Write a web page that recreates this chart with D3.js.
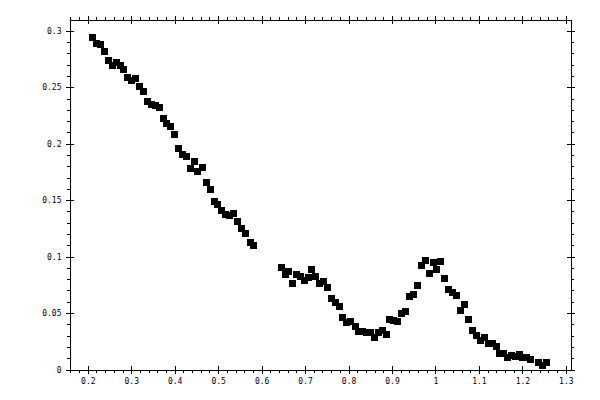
<!DOCTYPE html>
<html>
<head>
<meta charset="utf-8">
<script src="https://cdn.jsdelivr.net/npm/d3@7"></script>
<style>
  body { margin: 0; background: #fff; }
  svg { display: block; }
  .tick text { font-family: "DejaVu Sans Mono", monospace; font-size: 8px; fill: #000; }
  .tick line, .domain { stroke: #000; shape-rendering: crispEdges; }
</style>
</head>
<body>
<div id="chart"></div>
<script>
// Values
const xValues = [
  0.2115, 0.2207, 0.229, 0.239, 0.248, 0.2575, 0.2667, 0.276, 0.283, 0.292,
  0.301, 0.3105, 0.3197, 0.329, 0.338, 0.347, 0.3565, 0.3657, 0.375, 0.3818,
  0.391, 0.400, 0.4094, 0.4186, 0.4278, 0.437, 0.4463, 0.453, 0.4647, 0.4739,
  0.483, 0.491, 0.4992, 0.5084, 0.517, 0.526, 0.536, 0.545, 0.5544, 0.5636,
  0.5737, 0.582,
  0.645, 0.6543, 0.662, 0.6718, 0.6803, 0.6888, 0.698, 0.7073, 0.7155, 0.7248,
  0.734, 0.7432, 0.7524, 0.7616, 0.7708, 0.78, 0.787, 0.796, 0.8053, 0.815,
  0.8227, 0.8319, 0.841, 0.8503, 0.8605, 0.869, 0.8779, 0.8867, 0.895, 0.9043,
  0.9135, 0.9227, 0.932, 0.941, 0.9503, 0.9595, 0.9677, 0.9779, 0.9856, 0.9946,
  1.003, 1.0125, 1.0217, 1.031, 1.040, 1.0493, 1.0585, 1.0677, 1.0769, 1.086,
  1.0939, 1.1031, 1.1123, 1.1215, 1.1307, 1.14, 1.1482, 1.1574, 1.1666, 1.1758,
  1.185, 1.1928, 1.2011, 1.2103, 1.2195, 1.238, 1.2472, 1.2564
];
const yValues = [
  0.294, 0.2888, 0.2878, 0.2816, 0.2737, 0.2693, 0.2719, 0.2693, 0.2657, 0.2586,
  0.256, 0.2577, 0.2506, 0.2462, 0.2374, 0.2347, 0.2339, 0.2321, 0.2223, 0.2179,
  0.2152, 0.2081, 0.1958, 0.1905, 0.1887, 0.178, 0.1842, 0.1753, 0.1791, 0.1657,
  0.1595, 0.1491, 0.1461, 0.1411, 0.1373, 0.136, 0.1381, 0.1313, 0.1252, 0.1205,
  0.1127, 0.1098,
  0.0902, 0.0843, 0.0864, 0.0764, 0.0843, 0.0822, 0.079, 0.0811, 0.0888, 0.0822,
  0.0764, 0.0778, 0.0728, 0.063, 0.0591, 0.056, 0.0462, 0.0417, 0.0423, 0.0382,
  0.034, 0.034, 0.0331, 0.0331, 0.0284, 0.0325, 0.0343, 0.0313, 0.0447, 0.0435,
  0.0426, 0.0497, 0.0518, 0.0648, 0.0666, 0.0746, 0.0917, 0.0962, 0.0853, 0.0947,
  0.0882, 0.0956, 0.0808, 0.071, 0.0684, 0.0657, 0.0524, 0.0577, 0.0444, 0.0346,
  0.0302, 0.0258, 0.0284, 0.0231, 0.0231, 0.0204, 0.0145, 0.0142, 0.0107, 0.0124,
  0.0112, 0.0133, 0.0107, 0.0103, 0.0089, 0.0062, 0.0032, 0.0062
];
const xMajorTicks = [0.2, 0.3, 0.4, 0.5, 0.6, 0.7, 0.8, 0.9, 1.0, 1.1, 1.2, 1.3];
const xTickLabels = ["0.2", "0.3", "0.4", "0.5", "0.6", "0.7", "0.8", "0.9", "1", "1.1", "1.2", "1.3"];
const xMinorTicks = [0.16, 0.18, 0.22, 0.24, 0.26, 0.28, 0.32, 0.34, 0.36, 0.38, 0.42, 0.44, 0.46, 0.48,
  0.52, 0.54, 0.56, 0.58, 0.62, 0.64, 0.66, 0.68, 0.72, 0.74, 0.76, 0.78, 0.82, 0.84, 0.86, 0.88,
  0.92, 0.94, 0.96, 0.98, 1.02, 1.04, 1.06, 1.08, 1.12, 1.14, 1.16, 1.18, 1.22, 1.24, 1.26, 1.28];
const yMajorTicks = [0, 0.05, 0.1, 0.15, 0.2, 0.25, 0.3];
const yTickLabels = ["0", "0.05", "0.1", "0.15", "0.2", "0.25", "0.3"];
const yMinorTicks = [0.01, 0.02, 0.03, 0.04, 0.06, 0.07, 0.08, 0.09, 0.11, 0.12, 0.13, 0.14,
  0.16, 0.17, 0.18, 0.19, 0.21, 0.22, 0.23, 0.24, 0.26, 0.27, 0.28, 0.29];

const width = 600, height = 400;
const plotLeft = 69.5, plotRight = 570.5, plotTop = 19.5, plotBottom = 369.5;

const svg = d3.select("#chart").append("svg")
    .attr("width", width)
    .attr("height", height);

const x = d3.scaleLinear().domain([0.1579, 1.3108]).range([plotLeft, plotRight]);
const y = d3.scaleLinear().domain([0, 0.31]).range([plotBottom, plotTop]);

const fmtX = d => xTickLabels[xMajorTicks.indexOf(d)];
const fmtY = d => yTickLabels[yMajorTicks.indexOf(d)];

// frame made of four axes: major ticks cross the line, minor ticks point outward
function drawAxis(axisFn, scale, transform, majors, minors, fmt, pad) {
    svg.append("g").attr("transform", transform)
        .call(axisFn(scale).tickValues(minors).tickSize(3).tickSizeOuter(0).tickFormat(""));
    svg.append("g").attr("transform", transform)
        .call(axisFn(scale).tickValues(majors).tickSize(-4).tickSizeOuter(0).tickFormat(""))
        .select(".domain").remove();
    const g = svg.append("g").attr("transform", transform)
        .call(axisFn(scale).tickValues(majors).tickSize(4).tickSizeOuter(0)
            .tickPadding(pad).tickFormat(fmt || ""));
    g.select(".domain").remove();
    return g;
}

drawAxis(d3.axisBottom, x, `translate(0,${plotBottom})`, xMajorTicks, xMinorTicks, fmtX, 5);
drawAxis(d3.axisTop, x, `translate(0,${plotTop})`, xMajorTicks, xMinorTicks, null, 3);
drawAxis(d3.axisLeft, y, `translate(${plotLeft},0)`, yMajorTicks, yMinorTicks, fmtY, 4);
drawAxis(d3.axisRight, y, `translate(${plotRight},0)`, yMajorTicks, yMinorTicks, null, 3);

// square markers
const pts = xValues.map((v, i) => ({x: v, y: yValues[i]}));
const s = 7;
svg.append("g").selectAll("rect")
    .data(pts)
    .enter()
    .append("rect")
    .attr("x", d => Math.round(x(d.x) - s / 2))
    .attr("y", d => Math.round(y(d.y) - s / 2))
    .attr("width", s)
    .attr("height", s)
    .attr("fill", "#000")
    .attr("shape-rendering", "crispEdges");
</script>
</body>
</html>
